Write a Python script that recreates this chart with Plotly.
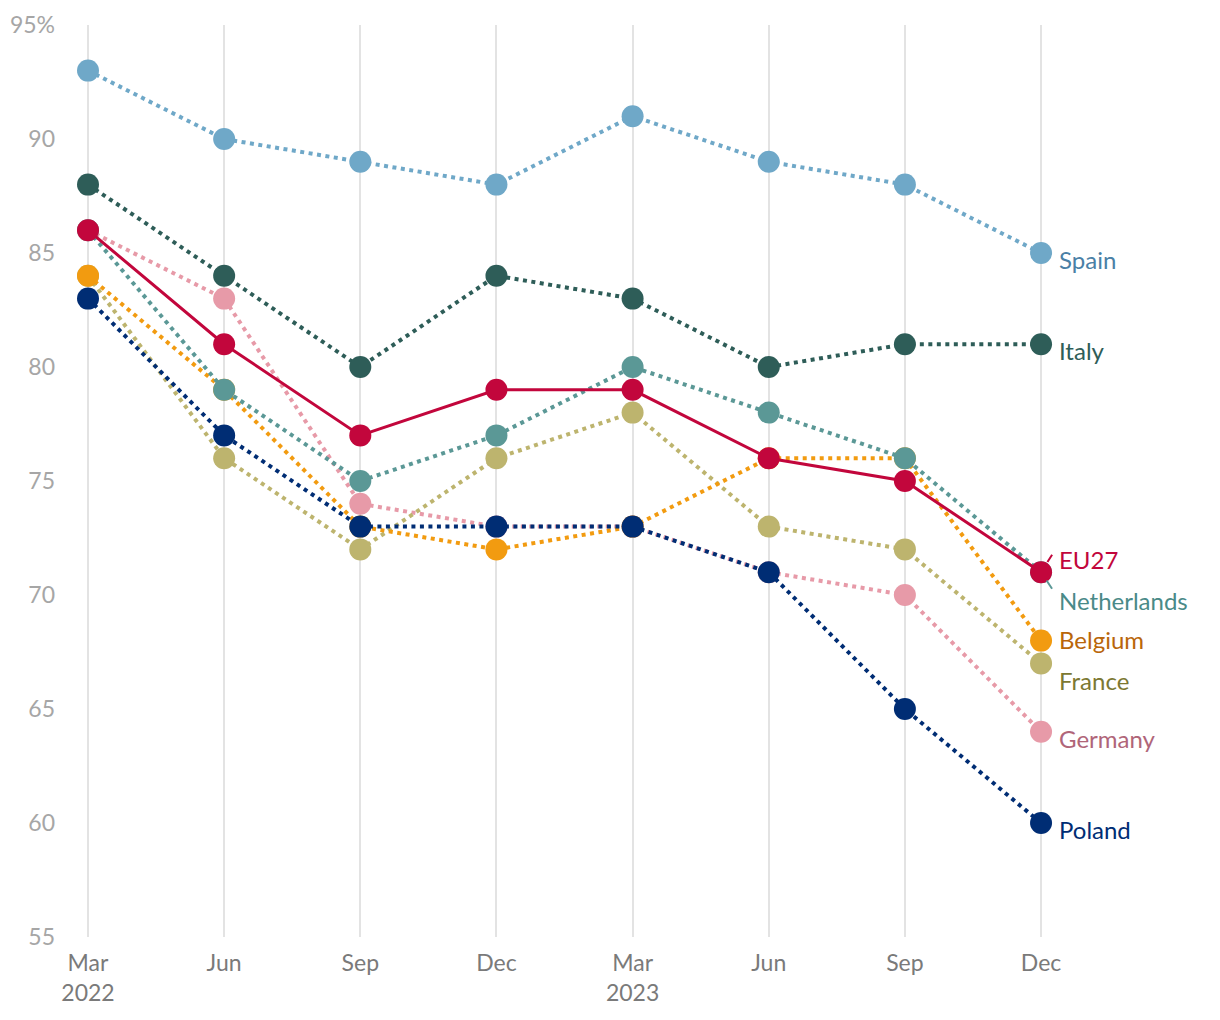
import plotly.graph_objects as go

# ---------------- data ----------------
quarters = ["Mar<br>2022", "Jun", "Sep", "Dec", "Mar<br>2023", "Jun", "Sep", "Dec"]

spain = [93, 90, 89, 88, 91, 89, 88, 85]
italy = [88, 84, 80, 84, 83, 80, 81, 81]
germany = [86, 83, 74, 73, 73, 71, 70, 64]
france = [84, 76, 72, 76, 78, 73, 72, 67]
belgium = [84, 79, 73, 72, 73, 76, 76, 68]
netherlands = [86, 79, 75, 77, 80, 78, 76, 71]
poland = [83, 77, 73, 73, 73, 71, 65, 60]
eu27 = [86, 81, 77, 79, 79, 76, 75, 71]

y_tickvals = [55, 60, 65, 70, 75, 80, 85, 90, 95]
y_ticktext = ["55", "60", "65", "70", "75", "80", "85", "90", "95%"]

# ---------------- styles ----------------
series = [
    # name, values, marker colour, label colour, dash, width, label yshift(px)
    ("Spain", spain, "#6fa8c8", "#4a80a6", "dot", 4, -6),
    ("Italy", italy, "#2e5d58", "#2e5d58", "dot", 4, -6),
    ("Germany", germany, "#e79aa8", "#b06579", "dot", 4, -7),
    ("France", france, "#bdb46e", "#7c7832", "dot", 4, -17),
    ("Belgium", belgium, "#f29b10", "#b9660a", "dot", 4, 1),
    ("Netherlands", netherlands, "#5b9896", "#4a8a88", "dot", 4, -28),
    ("Poland", poland, "#002d74", "#002d74", "dot", 4, -6),
    ("EU27", eu27, "#c2063c", "#c2063c", "solid", 3, 13),
]

FONT = "Lato, 'Open Sans', sans-serif"
x_idx = list(range(len(quarters)))

fig = go.Figure()
for name, vals, col, lcol, dash, w, ys in series:
    fig.add_trace(go.Scatter(
        x=x_idx, y=vals, name=name, mode="lines+markers",
        line=dict(color=col, width=w, dash=("4px,4.5px" if dash == "dot" else "solid")),
        marker=dict(color=col, size=22, line=dict(width=0)),
        hoverinfo="skip", showlegend=False,
    ))
    fig.add_annotation(
        x=x_idx[-1], y=vals[-1], xref="x", yref="y",
        text=name, showarrow=False, xanchor="left", yanchor="middle",
        xshift=16, yshift=ys,
        font=dict(family=FONT, size=24, color=lcol),
    )

# short connector ticks for the overlapping EU27 / Netherlands endpoints
fig.add_annotation(x=x_idx[-1], y=eu27[-1], xref="x", yref="y", text="",
                   showarrow=True, arrowhead=0, arrowwidth=2, arrowcolor="#c2063c",
                   ax=12, ay=-19, standoff=12)
fig.add_annotation(x=x_idx[-1], y=netherlands[-1], xref="x", yref="y", text="",
                   showarrow=True, arrowhead=0, arrowwidth=2, arrowcolor="#5b9896",
                   ax=12, ay=18, standoff=10)

# page body has an 8px margin, so compensate
step = 136.15
left_px, right_px = 52, 28
plot_w = 1220 - left_px - right_px
x0 = -(80 - left_px) / step
x1 = x0 + plot_w / step

fig.update_layout(
    width=1220, height=1020,
    margin=dict(l=left_px, r=right_px, t=17, b=91, autoexpand=False),
    paper_bgcolor="white", plot_bgcolor="white",
    font=dict(family=FONT, size=22, color="#888"),
    xaxis=dict(
        range=[x0, x1], tickvals=x_idx, ticktext=quarters,
        showgrid=True, gridcolor="#e3e3e3", gridwidth=2,
        zeroline=False, showline=False, ticks="",
        tickfont=dict(family=FONT, size=23, color="#7a7a7a"),
        ticklabelstandoff=10, automargin=False,
    ),
    yaxis=dict(
        range=[55, 95], tickvals=y_tickvals, ticktext=y_ticktext,
        showgrid=False, zeroline=False, showline=False, ticks="",
        tickfont=dict(family=FONT, size=23, color="#a6a6a6"),
        ticklabelstandoff=4, automargin=False,
    ),
)

fig.write_html("out.html")
